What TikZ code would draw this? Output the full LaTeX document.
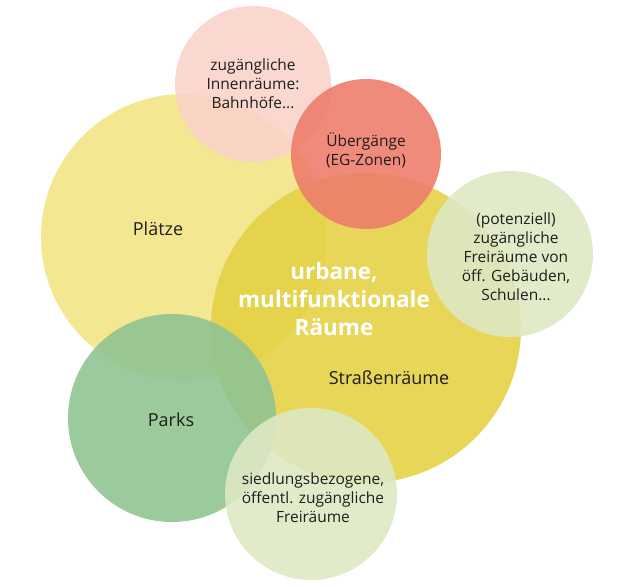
\documentclass[tikz,border=0pt]{standalone}
\usepackage{fontspec}
\setmainfont{Open Sans}
\definecolor{plaetzeyellow}{HTML}{F3E486}
\definecolor{strassenyellow}{HTML}{E4D246}
\definecolor{innenpink}{HTML}{FAD3CA}
\definecolor{uebergangred}{HTML}{EE7D6C}
\definecolor{freigreen}{HTML}{DEE9C4}
\definecolor{parkgreen}{HTML}{90C492}
\definecolor{textgray}{HTML}{1E1E1E}
\tikzset{
  blob/.style={fill opacity=0.9},
  lbl/.style={text=textgray,align=center,font=\fontsize{15.5}{19}\selectfont,inner sep=0pt},
  biglbl/.style={text=textgray,align=center,font=\fontsize{18}{19}\selectfont,inner sep=0pt}
}
\begin{document}
\begin{tikzpicture}[x=1pt,y=-1pt]
    \useasboundingbox (0,0) rectangle (633,587);
    % circles, back to front
    \fill [blob,plaetzeyellow] (184,237) circle[radius=143]; % Plaetze
    \fill [blob,strassenyellow] (366,328) circle[radius=155]; % Strassen
    \fill [blob,innenpink] (253,84) circle[radius=78]; % Innenraeume
    \fill [blob,uebergangred] (366,154) circle[radius=75]; % Uebergaenge
    \fill [blob,freigreen] (510,254) circle[radius=83]; % Gebaeude
    \fill [blob,parkgreen] (172,418) circle[radius=104]; % Parks
    \fill [blob,freigreen] (311,494) circle[radius=86]; % siedlungsbezogen
    % labels
    \node [biglbl] (plaetze) at (158,229) {Plätze};
    \node [biglbl] (strassen) at (389,378) {Straßenräume};
    \node [biglbl] (parks) at (171,420) {Parks};
    \node [lbl] (innen) at (253,84) {zugängliche\\Innenräume:\\Bahnhöfe...};
    \node [lbl] (uebergang) at (366,150) {Übergänge\\(EG-Zonen)};
    \node [lbl] (gebaeude) at (516,257) {(potenziell)\\zugängliche\\Freiräume von\\öff. Gebäuden,\\Schulen...};
    \node [lbl] (siedlung) at (313,498) {siedlungsbezogene,\\öffentl. zugängliche\\Freiräume};
    \node [text=white,align=center,inner sep=0pt,font=\bfseries\fontsize{22.5}{28}\selectfont] (urban) at (334,299) {urbane,\\multifunktionale\\Räume};
\end{tikzpicture}
\end{document}
